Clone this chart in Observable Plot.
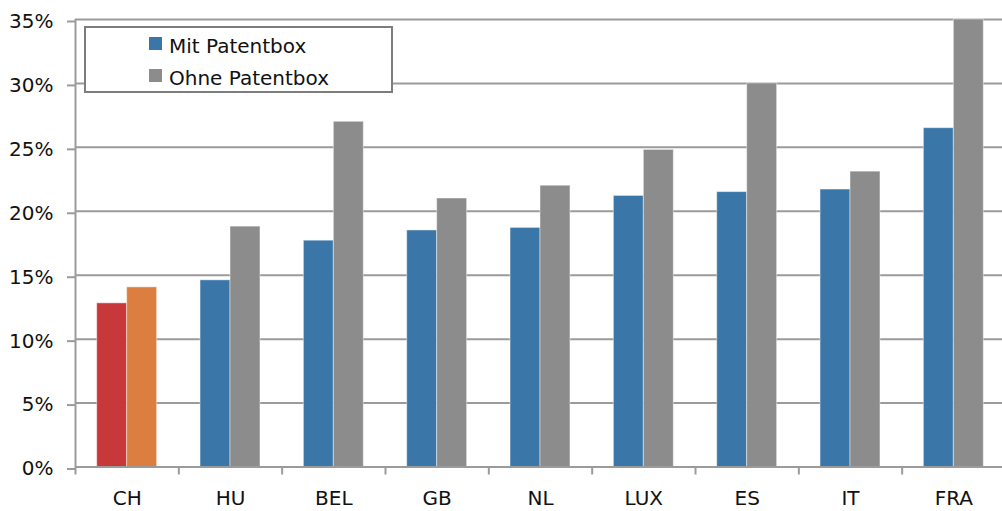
<!DOCTYPE html>
<html>
<head>
<meta charset="utf-8">
<script src="https://cdn.jsdelivr.net/npm/d3@7"></script>
<script src="https://cdn.jsdelivr.net/npm/@observablehq/plot@0.6"></script>
<style>
  html, body { margin: 0; padding: 0; background: #fff; }
  #chart { position: relative; width: 1002px; height: 511px; font-family: "DejaVu Sans", sans-serif; overflow: hidden; }
  #chart svg { display: block; }
  .legend { position: absolute; left: 84px; top: 26px; width: 305px; height: 63px; border: 2px solid #7d7d7d; background: #fff; }
  .legend .sw { position: absolute; width: 13px; height: 13px; }
  .legend .lb { position: absolute; font-size: 20px; line-height: 20px; color: #111; white-space: nowrap; }
</style>
</head>
<body>
<div id="chart"></div>
<script>
// Effektive Steuerbelastung je Land, mit und ohne Patentbox (in %)
const categories = ["CH", "HU", "BEL", "GB", "NL", "LUX", "ES", "IT", "FRA"];
const mitPatentbox = [12.8, 14.6, 17.7, 18.5, 18.7, 21.2, 21.5, 21.7, 26.5];
const ohnePatentbox = [14.05, 18.8, 27.0, 21.0, 22.0, 24.8, 30.0, 23.1, 35.0];
const seriesNames = ["Mit Patentbox", "Ohne Patentbox"];
const seriesColors = ["#3A76A8", "#8C8C8C"];
const highlightCategory = "CH";
const highlightColors = ["#C8383A", "#DC7E3F"];
const yTicks = [0, 5, 10, 15, 20, 25, 30, 35];

const rows = categories.flatMap((cat, i) => [
  { cat, s: 0, v: mitPatentbox[i], color: cat === highlightCategory ? highlightColors[0] : seriesColors[0] },
  { cat, s: 1, v: ohnePatentbox[i], color: cat === highlightCategory ? highlightColors[1] : seriesColors[1] }
]);

const W = 1002, H = 511;
const mL = 75, mR = -3, mT = 19, mB = 44.5;
const step = (W - mL - mR) / categories.length;
const half = step / 2;
const gap = 21.7;           // white space left and right of each bar pair
const lineColor = "#9b9b9b";

const chart = Plot.plot({
  width: W,
  height: H,
  marginLeft: mL,
  marginRight: mR,
  marginTop: mT,
  marginBottom: mB,
  style: { fontFamily: "DejaVu Sans, sans-serif", fontSize: "20px", color: "#111", background: "#fff", overflow: "visible" },
  x: { domain: categories, padding: 0, round: false, label: null },
  y: { domain: [0, 35], label: null },
  color: { type: "identity" },
  marks: [
    Plot.gridY({ ticks: yTicks, stroke: lineColor, strokeOpacity: 1, strokeWidth: 2 }),
    Plot.axisY({ ticks: yTicks, tickSize: 8, tickPadding: 14, tickFormat: d => d + "%", stroke: lineColor, strokeWidth: 2, fill: "#111", dy: 2, fontSize: 20, label: null }),
    Plot.barY(rows.filter(d => d.s === 0), { x: "cat", y: "v", fill: "color", insetLeft: gap, insetRight: half, stroke: "white", strokeOpacity: 0.45, strokeWidth: 1 }),
    Plot.barY(rows.filter(d => d.s === 1), { x: "cat", y: "v", fill: "color", insetLeft: half, insetRight: gap, stroke: "white", strokeOpacity: 0.45, strokeWidth: 1 }),
    Plot.ruleY([0], { stroke: lineColor, strokeWidth: 2 }),
    Plot.ruleX([categories[0]], { x: d => d, dx: -half, y1: 0, y2: 35, stroke: lineColor, strokeWidth: 2 }),
    Plot.axisX({ tickSize: 8, tickFormat: () => "", dx: -half, stroke: lineColor, strokeWidth: 2, label: null }),
    Plot.axisX({ tickSize: 0, tickPadding: 23.5, fill: "#111", fontSize: 20, label: null })
  ]
});

const host = document.getElementById("chart");
host.appendChild(chart);

// Legende im Diagrammbereich
const legend = document.createElement("div");
legend.className = "legend";
seriesNames.forEach((name, i) => {
  const sw = document.createElement("div");
  sw.className = "sw";
  sw.style.left = "63px";
  sw.style.top = (9 + 32 * i) + "px";
  sw.style.background = seriesColors[i];
  const lb = document.createElement("div");
  lb.className = "lb";
  lb.style.left = "83px";
  lb.style.top = (8 + 32 * i) + "px";
  lb.textContent = name;
  legend.appendChild(sw);
  legend.appendChild(lb);
});
host.appendChild(legend);
</script>
</body>
</html>
